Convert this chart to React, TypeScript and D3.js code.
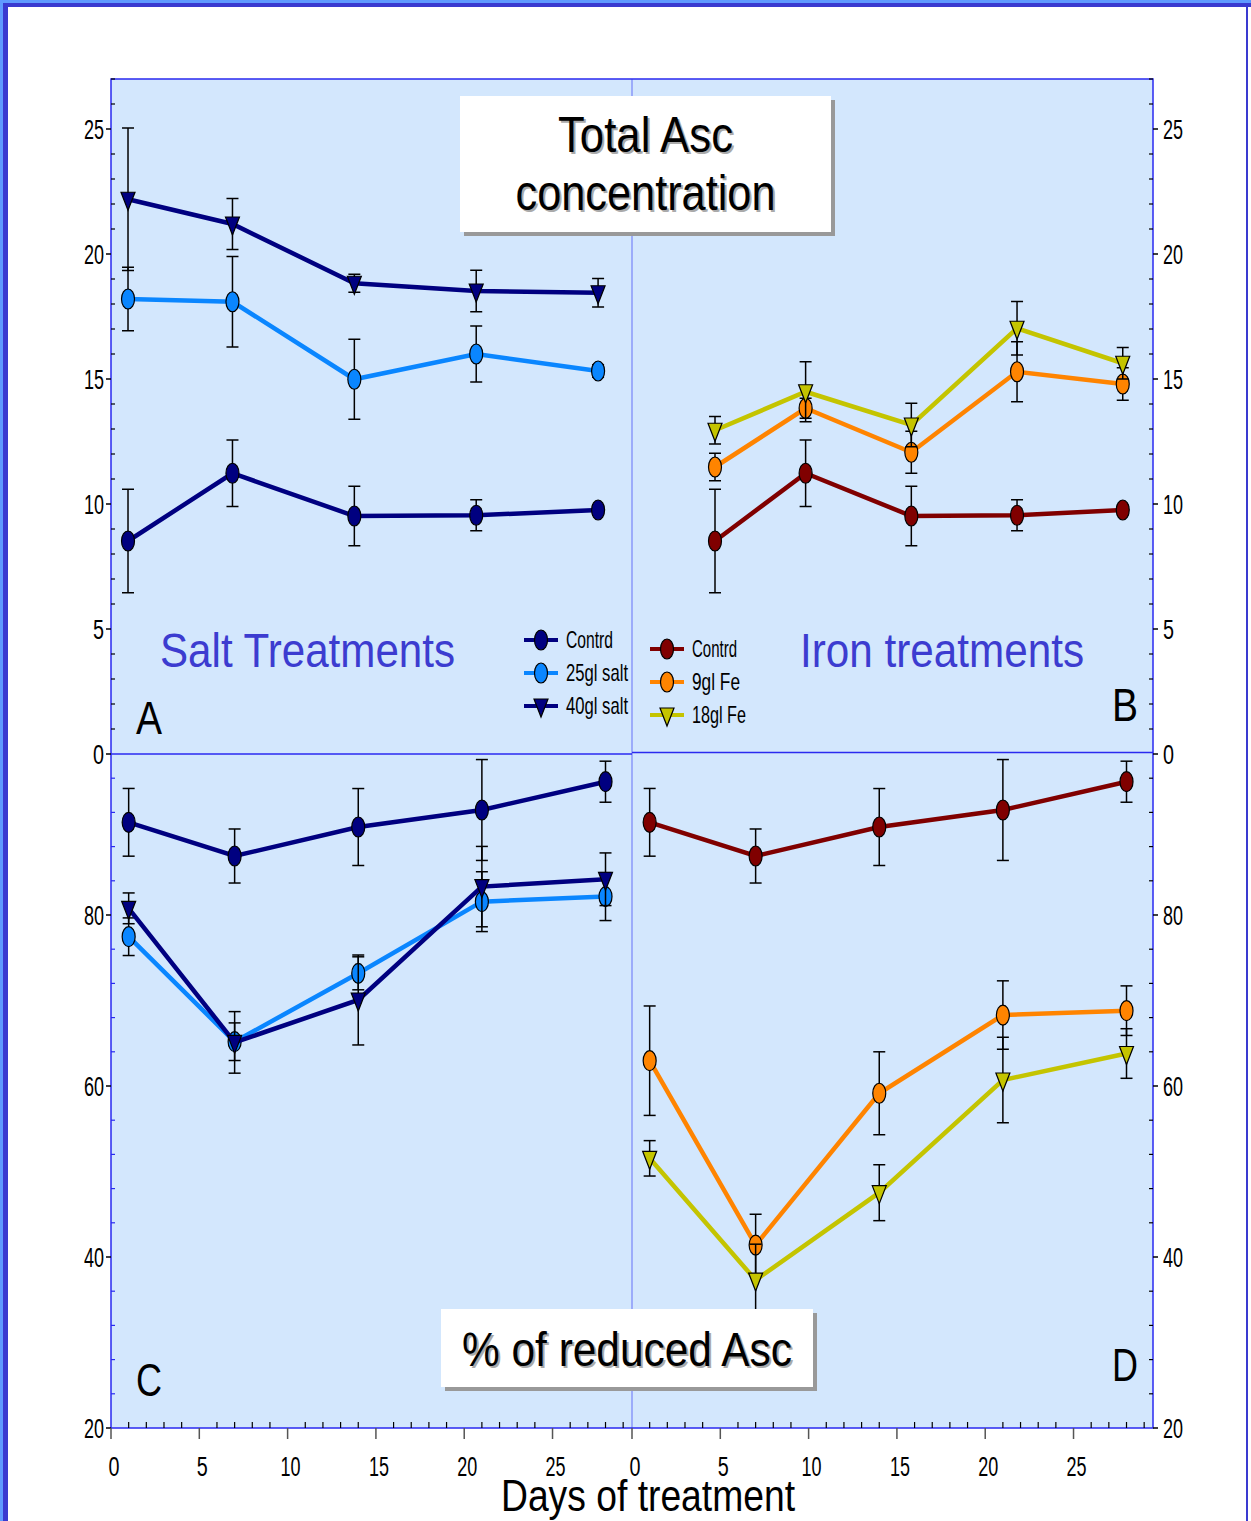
import React from "react";
import * as d3 from "d3";

// sampling days
const days = [1, 7, 14, 21, 28];

// total Asc concentration (panels A, B)
const totalControl = [8.52, 11.23, 9.52, 9.55, 9.76];
const totalControlErr = [2.07, 1.33, 1.19, 0.62, 0.2];
const totalSalt25 = [18.2, 18.09, 14.99, 16.0, 15.32];
const totalSalt25Err = [1.27, 1.81, 1.6, 1.12, 0.25];
const totalSalt40 = [22.19, 21.2, 18.83, 18.52, 18.45];
const totalSalt40Err = [2.85, 1.02, 0.36, 0.83, 0.57];
const totalFe9 = [11.48, 13.83, 12.07, 15.29, 14.8];
const totalFe9Err = [0.55, 0.4, 0.84, 1.2, 0.65];
const totalFe18 = [12.95, 14.49, 13.16, 17.03, 15.63];
const totalFe18Err = [0.55, 1.2, 0.87, 1.07, 0.63];

// % of reduced Asc (panels C, D)
const redControl = [90.84, 86.9, 90.29, 92.28, 95.59];
const redControlErr = [3.96, 3.16, 4.5, 5.9, 2.4];
const redSalt25 = [77.46, 65.18, 73.18, 81.56, 82.15];
const redSalt25Err = [2.2, 2.2, 1.93, 3.5, 2.8];
const redSalt40 = [80.78, 65.1, 70.06, 83.32, 84.18];
const redSalt40Err = [1.8, 3.6, 5.26, 4.7, 3.08];
const redFe9 = [62.96, 41.4, 59.15, 68.3, 68.81];
const redFe9Err = [6.4, 3.6, 4.85, 4.0, 2.9];
const redFe18 = [51.54, 37.3, 47.52, 60.7, 63.8];
const redFe18Err = [2.07, 4.2, 3.27, 5.0, 2.9];

// axis ticks
const topTicks = [0, 5, 10, 15, 20, 25];
const bottomTicks = [20, 40, 60, 80];
const dayTicks = [0, 5, 10, 15, 20, 25];

const saltLegend = ["Contrd", "25gl salt", "40gl salt"];
const ironLegend = ["Contrd", "9gl Fe", "18gl Fe"];

const NAVY = "#000080";
const LBLUE = "#0a86ff";
const DRED = "#800000";
const ORANGE = "#ff8400";
const YEL = "#c4c400";
const BORDER = "#2a2af0";
const TXTBLUE = "#3c3cd0";
const FONT = "'Liberation Sans', Arial, sans-serif";

type Series = { vals: number[]; err: number[]; color: string; shape: "circle" | "tri" };

// narrow text: squeezed to a given width, like the condensed face of the original
const NText = ({ w, children, ...rest }: any) => (
  <text textLength={w} lengthAdjust="spacingAndGlyphs" fontFamily={FONT} {...rest}>{children}</text>
);

const Marker = ({ x, y, color, shape }: { x: number; y: number; color: string; shape: string }) =>
  shape === "circle" ? (
    <ellipse cx={x} cy={y} rx={6.5} ry={10} fill={color} stroke="#000" strokeWidth={1.2} />
  ) : (
    <path d={`M${x - 7},${y - 7} L${x + 7},${y - 7} L${x},${y + 11} Z`} fill={color} stroke="#000" strokeWidth={1.2} />
  );

function Panel({ series, x, y }: { series: Series[]; x: d3.ScaleLinear<number, number>; y: d3.ScaleLinear<number, number> }) {
  const line = d3.line<number>().x((_, i) => x(days[i])).y((v) => y(v));
  return (
    <g>
      {series.map((s, k) => (
        <g key={k}>
          <path d={line(s.vals) || ""} fill="none" stroke={s.color} strokeWidth={4.5} />
          {s.vals.map((v, i) => {
            const cx = x(days[i]);
            const y1 = y(v + s.err[i]);
            const y2 = y(v - s.err[i]);
            return (
              <g key={i} stroke="#000" strokeWidth={1.5}>
                <line x1={cx} x2={cx} y1={y1} y2={y2} />
                <line x1={cx - 6} x2={cx + 6} y1={y1} y2={y1} />
                <line x1={cx - 6} x2={cx + 6} y1={y2} y2={y2} />
              </g>
            );
          })}
          {s.vals.map((v, i) => (
            <Marker key={i} x={x(days[i])} y={y(v)} color={s.color} shape={s.shape} />
          ))}
        </g>
      ))}
    </g>
  );
}

function Legend({ x, y, labels, widths, series }: { x: number; y: number; labels: string[]; widths: number[]; series: Series[] }) {
  return (
    <g>
      {labels.map((t, i) => (
        <g key={t} transform={`translate(${x},${y + i * 33})`}>
          <line x1={-17} x2={17} y1={0} y2={0} stroke={series[i].color} strokeWidth={4} />
          <Marker x={0} y={0} color={series[i].color} shape={series[i].shape} />
          <NText x={25} y={8} fontSize={24} w={widths[i]}>{t}</NText>
        </g>
      ))}
    </g>
  );
}

function TitleBox({ x, y, w, h, lines, widths, size, baseline, gap }: { x: number; y: number; w: number; h: number; lines: string[]; widths: number[]; size: number; baseline: number; gap: number }) {
  return (
    <g>
      <rect x={x + 4} y={y + 4} width={w} height={h} fill="#999" />
      <rect x={x} y={y} width={w} height={h} fill="#fff" />
      {lines.map((t, i) => (
        <g key={t} fontSize={size} textAnchor="middle">
          <NText x={x + w / 2 + 2} y={y + baseline + i * gap + 2} w={widths[i]} fill="#aaa">{t}</NText>
          <NText x={x + w / 2} y={y + baseline + i * gap} w={widths[i]} fill="#000">{t}</NText>
        </g>
      ))}
    </g>
  );
}

export default function App() {
  const L = 111, M = 632, R = 1153, T = 79, MID = 754, B = 1428;

  const yTop = d3.scaleLinear().domain([0, 27]).range([MID, T]);
  const yBot = d3.scaleLinear().domain([20, 98.83]).range([B, MID]);
  const xA = d3.scaleLinear().domain([0, 29.5]).range([110.6, 624.2]);
  const xB = d3.scaleLinear().domain([0, 29.5]).range([699.9, 1145.4]);
  const xC = d3.scaleLinear().domain([0, 29.5]).range([L, M]);
  const xD = d3.scaleLinear().domain([0, 29.5]).range([M, R]);

  const A: Series[] = [
    { vals: totalControl, err: totalControlErr, color: NAVY, shape: "circle" },
    { vals: totalSalt25, err: totalSalt25Err, color: LBLUE, shape: "circle" },
    { vals: totalSalt40, err: totalSalt40Err, color: NAVY, shape: "tri" },
  ];
  const Bs: Series[] = [
    { vals: totalControl, err: totalControlErr, color: DRED, shape: "circle" },
    { vals: totalFe9, err: totalFe9Err, color: ORANGE, shape: "circle" },
    { vals: totalFe18, err: totalFe18Err, color: YEL, shape: "tri" },
  ];
  const C: Series[] = [
    { vals: redControl, err: redControlErr, color: NAVY, shape: "circle" },
    { vals: redSalt25, err: redSalt25Err, color: LBLUE, shape: "circle" },
    { vals: redSalt40, err: redSalt40Err, color: NAVY, shape: "tri" },
  ];
  const D: Series[] = [
    { vals: redControl, err: redControlErr, color: DRED, shape: "circle" },
    { vals: redFe9, err: redFe9Err, color: ORANGE, shape: "circle" },
    { vals: redFe18, err: redFe18Err, color: YEL, shape: "tri" },
  ];

  const topMinor = d3.range(1, 28).filter((v) => v % 5 !== 0);
  const botMinor = d3.range(24, 99, 4).filter((v) => v % 20 !== 0);
  const dayMinor = d3.range(1, 30).filter((v) => v % 5 !== 0);

  const tw = (v: number) => (String(v).length > 1 ? 20 : 11);

  return (
    <div style={{ position: "absolute", left: 0, top: 0 }}>
      <svg width={1251} height={1521} style={{ display: "block" }}>
        <rect x={0} y={0} width={1251} height={1521} fill="#fff" />
        {/* slide frame */}
        <rect x={0} y={0} width={1251} height={3} fill="#5f9aff" />
        <rect x={0} y={0} width={3} height={1521} fill="#5f9aff" />
        <rect x={3} y={3} width={1248} height={4} fill="#3a3ad0" />
        <rect x={3} y={3} width={5} height={1518} fill="#3a3ad0" />
        <rect x={1246} y={3} width={2} height={1518} fill="#3a3ad0" />

        <rect x={L} y={T} width={R - L} height={B - T} fill="#d3e7fd" />

        <Panel series={A} x={xA} y={yTop} />
        <Panel series={Bs} x={xB} y={yTop} />
        <Panel series={C} x={xC} y={yBot} />
        <Panel series={D} x={xD} y={yBot} />

        {/* frame lines */}
        <line x1={M} x2={M} y1={T} y2={B} stroke="#8a98f8" strokeWidth={1.5} />
        <line x1={L} x2={M} y1={MID} y2={MID} stroke={BORDER} strokeWidth={1.5} />
        <line x1={M} x2={R} y1={MID - 1.5} y2={MID - 1.5} stroke={BORDER} strokeWidth={1.5} />
        <rect x={L} y={T} width={R - L} height={B - T} fill="none" stroke={BORDER} strokeWidth={1.5} />

        {/* left & right y axes, top panels */}
        {topTicks.map((v) => (
          <g key={`t${v}`}>
            <line x1={L - 5} x2={L} y1={yTop(v)} y2={yTop(v)} stroke="#000" strokeWidth={1.5} />
            <line x1={R} x2={R + 5} y1={yTop(v)} y2={yTop(v)} stroke="#000" strokeWidth={1.5} />
            <NText x={L - 7} y={yTop(v) + 10} textAnchor="end" fontSize={27} w={tw(v)}>{v}</NText>
            <NText x={R + 10} y={yTop(v) + 10} fontSize={27} w={tw(v)}>{v}</NText>
          </g>
        ))}
        {topMinor.map((v) => (
          <g key={`tm${v}`} stroke="#000" strokeWidth={1.2}>
            <line x1={L} x2={L + 4} y1={yTop(v)} y2={yTop(v)} />
            <line x1={R - 4} x2={R} y1={yTop(v)} y2={yTop(v)} />
          </g>
        ))}

        {/* bottom panels y axes */}
        {bottomTicks.map((v) => (
          <g key={`b${v}`}>
            <line x1={L - 5} x2={L} y1={yBot(v)} y2={yBot(v)} stroke="#000" strokeWidth={1.5} />
            <line x1={R} x2={R + 5} y1={yBot(v)} y2={yBot(v)} stroke="#000" strokeWidth={1.5} />
            <NText x={L - 7} y={yBot(v) + 10} textAnchor="end" fontSize={27} w={tw(v)}>{v}</NText>
            <NText x={R + 10} y={yBot(v) + 10} fontSize={27} w={tw(v)}>{v}</NText>
          </g>
        ))}
        {botMinor.map((v) => (
          <g key={`bm${v}`} strokeWidth={1.2}>
            <line x1={L} x2={L + 4} y1={yBot(v)} y2={yBot(v)} stroke={BORDER} />
            <line x1={R - 4} x2={R} y1={yBot(v)} y2={yBot(v)} stroke="#000" />
          </g>
        ))}

        {/* x axes */}
        {[xC, xD].map((xs, k) => (
          <g key={`x${k}`}>
            {dayTicks.map((d) => (
              <g key={d}>
                <line x1={xs(d)} x2={xs(d)} y1={B} y2={B + 11} stroke="#555" strokeWidth={1.5} />
                <NText x={xs(d) + 3} y={B + 48} textAnchor="middle" fontSize={27} w={tw(d)}>{d}</NText>
              </g>
            ))}
            {dayMinor.map((d) => (
              <line key={`m${d}`} x1={xs(d)} x2={xs(d)} y1={B - 6} y2={B} stroke="#000" strokeWidth={1.2} />
            ))}
          </g>
        ))}
        <NText x={648} y={1511} textAnchor="middle" fontSize={44} w={294}>Days of treatment</NText>

        {/* annotations */}
        <TitleBox x={460} y={96} w={371} h={136} lines={["Total Asc", "concentration"]} widths={[175, 260]} size={50} baseline={56} gap={58} />
        <TitleBox x={441} y={1309} w={372} h={78} lines={["% of reduced Asc"]} widths={[330]} size={48} baseline={57} gap={0} />

        <NText x={160} y={667} fontSize={48} fill={TXTBLUE} w={295}>Salt Treatments</NText>
        <NText x={800} y={667} fontSize={48} fill={TXTBLUE} w={284}>Iron treatments</NText>

        <g fontSize={46} fill="#000">
          <NText x={136} y={734} w={26}>A</NText>
          <NText x={1112} y={721} w={26}>B</NText>
          <NText x={136} y={1396} w={26}>C</NText>
          <NText x={1112} y={1381} w={26}>D</NText>
        </g>

        <Legend x={541} y={640} labels={saltLegend} widths={[47, 62, 62]} series={A} />
        <Legend x={667} y={649} labels={ironLegend} widths={[45, 48, 54]} series={Bs} />
      </svg>
    </div>
  );
}
